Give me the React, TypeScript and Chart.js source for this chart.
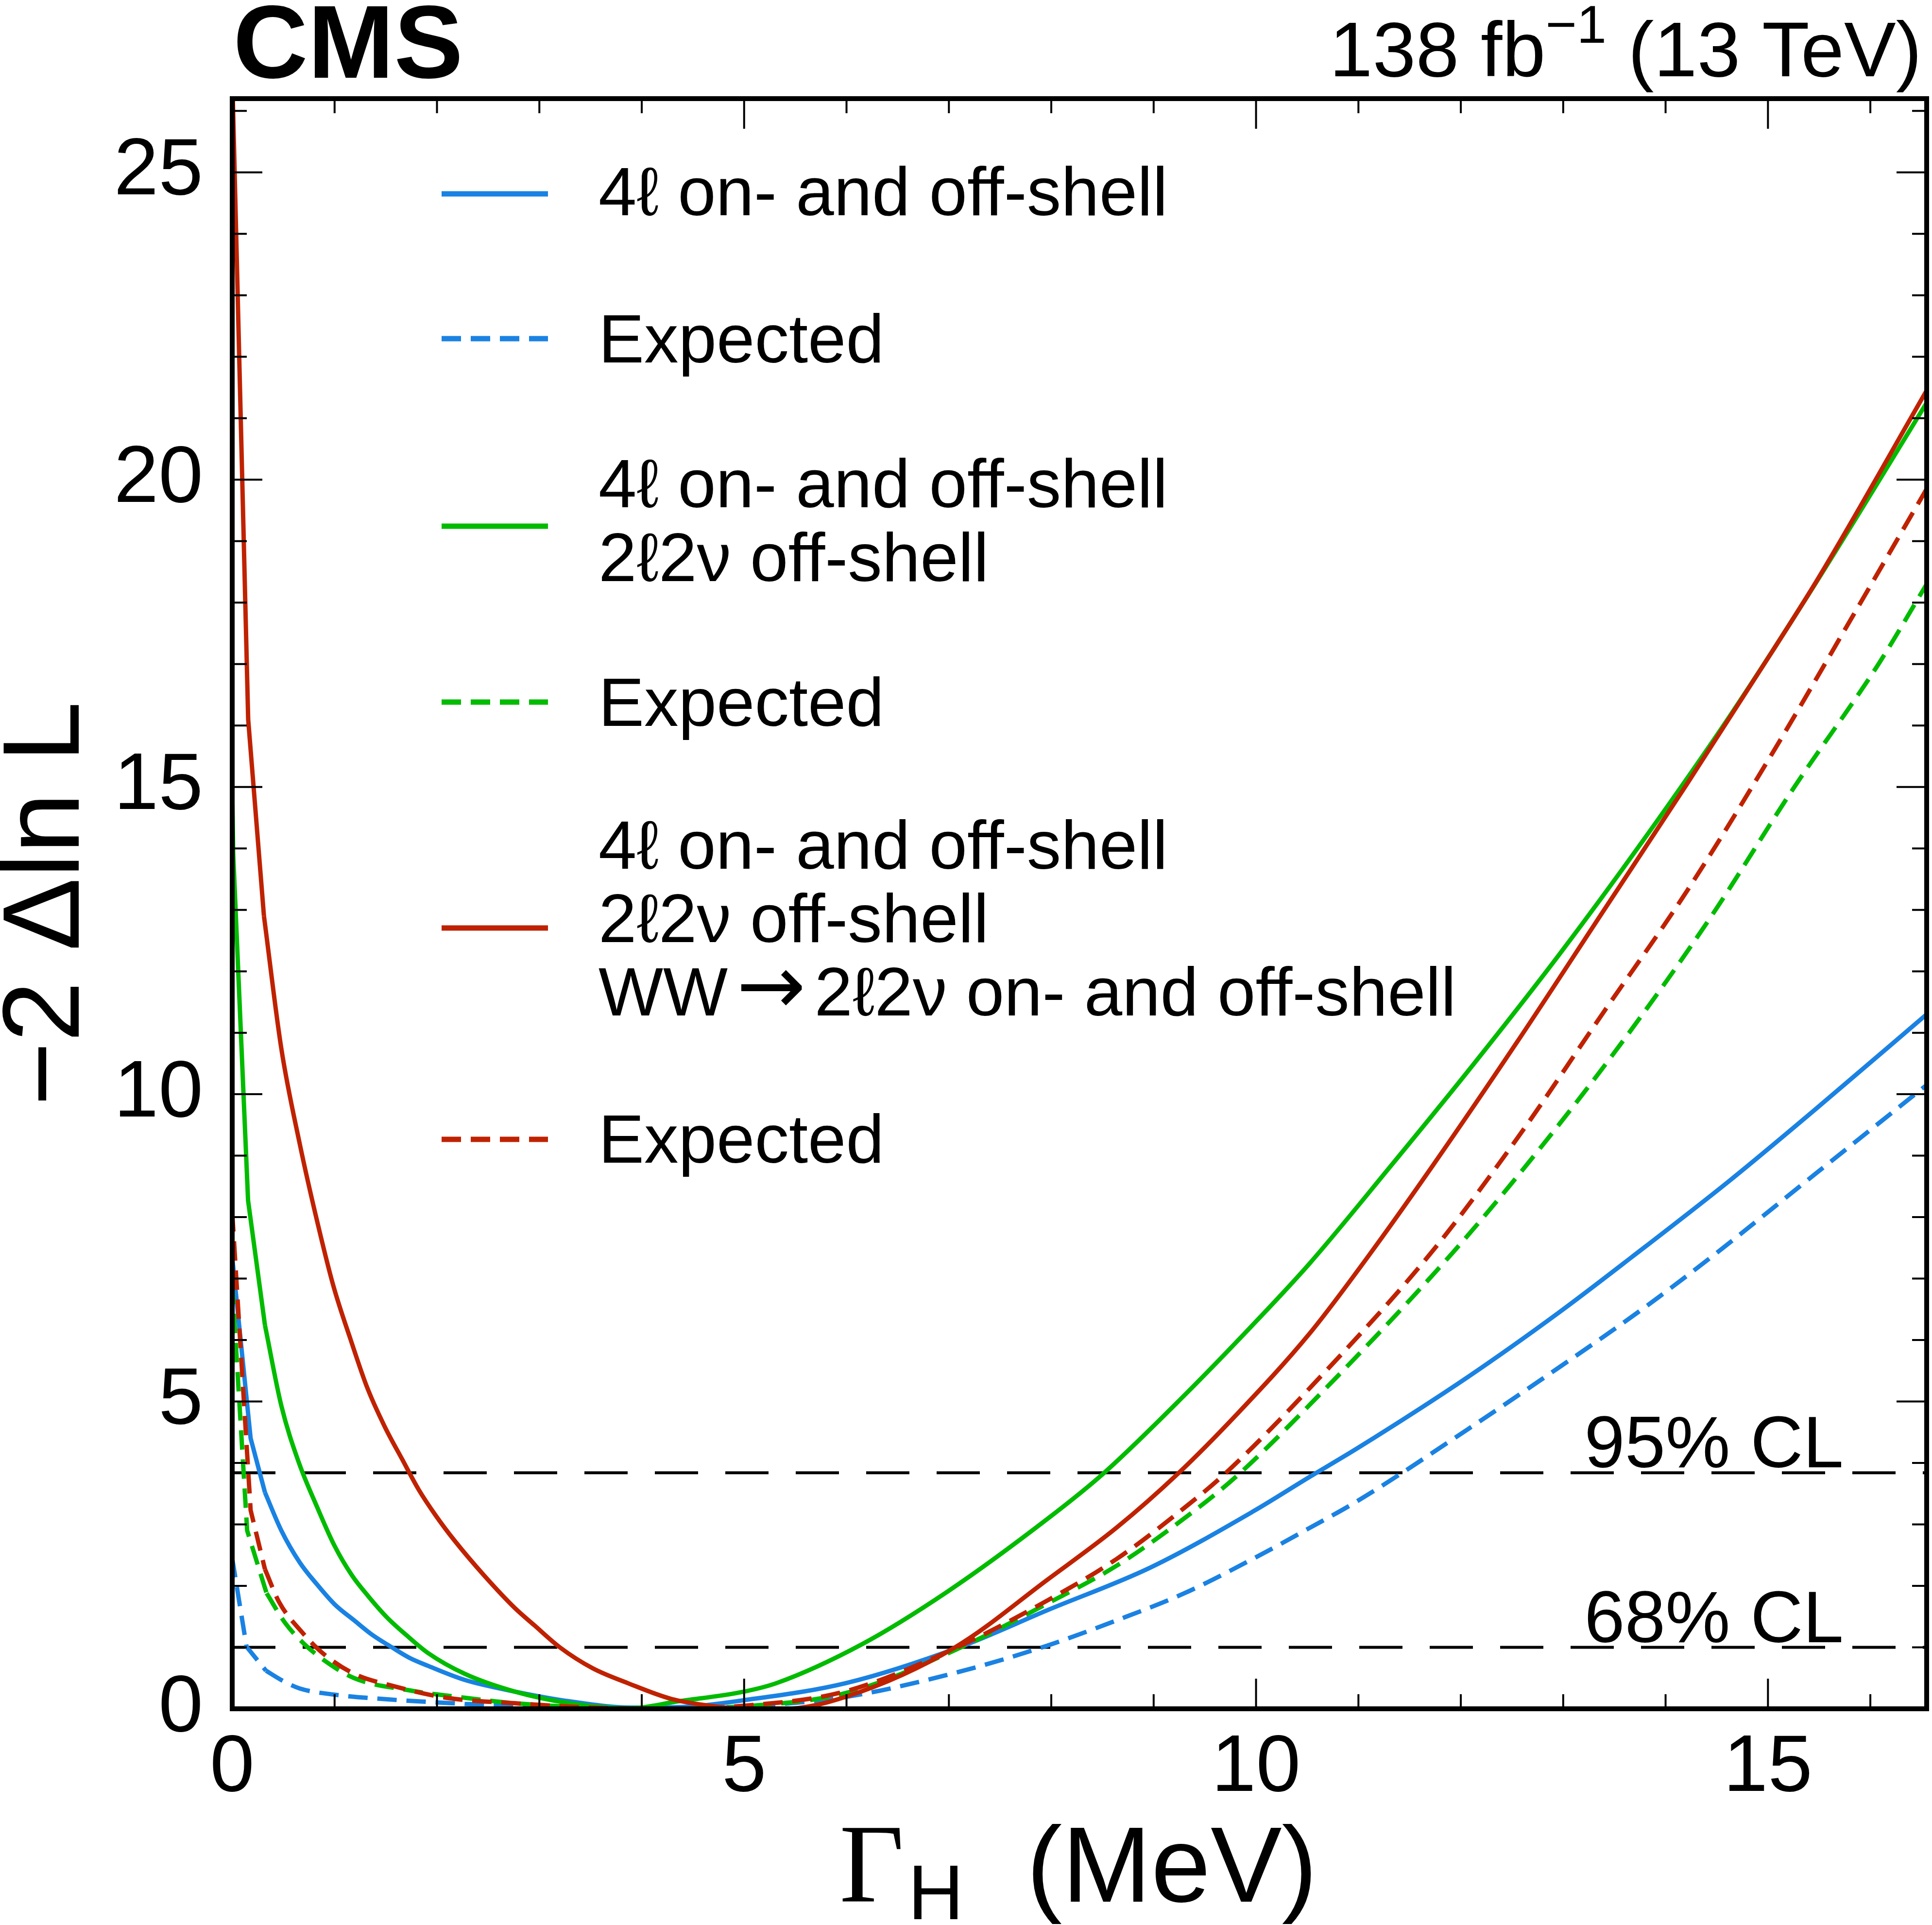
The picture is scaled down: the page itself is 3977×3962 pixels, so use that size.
import React, { useEffect, useRef } from "react"
import { Chart, registerables } from "chart.js"

Chart.register(...registerables)

// canvas / frame geometry (px)
const W = 3977
const H = 3962
const PLOT_LEFT = 478
const PLOT_RIGHT = 3966
const PLOT_TOP = 203
const PLOT_BOTTOM = 3517

const X_MAX = 16.55
const Y_MAX = 26.2

// axis ticks
const xMajorTicks = [0, 5, 10, 15]
const yMajorTicks = [0, 5, 10, 15, 20, 25]
const MINOR_STEP = 1

// confidence levels
const clLevels = [3.84, 1.0]
const clLabels = ["95% CL", "68% CL"]

// 4l on- and off-shell, observed
const obs4lX = [0, 0.18, 0.32, 0.48, 0.66, 0.83, 1.0, 1.19, 1.37, 1.55, 1.73, 1.91, 2.27, 2.76, 3.3, 3.9, 4.4, 5.0, 6.0, 7.1, 7.97, 8.97, 9.97, 10.52, 11.0, 12.07, 12.96, 13.67, 14.63, 15.46, 16.55]
const obs4lY = [7.35, 4.4, 3.52, 2.9, 2.38, 2.02, 1.7, 1.44, 1.2, 1.01, 0.83, 0.7, 0.47, 0.28, 0.12, 0.02, 0.03, 0.14, 0.42, 1.0, 1.61, 2.3, 3.21, 3.77, 4.25, 5.4, 6.45, 7.35, 8.6, 9.75, 11.3]

// 4l on- and off-shell, expected
const exp4lX = [0, 0.14, 0.33, 0.5, 0.66, 1.0, 1.55, 2.27, 2.76, 3.5, 4.1, 5.0, 5.98, 6.98, 7.91, 8.64, 9.3, 9.97, 10.52, 11.0, 12.07, 12.78, 13.77, 14.5, 15.46, 16.55]
const exp4lY = [2.45, 1.01, 0.62, 0.45, 0.33, 0.23, 0.15, 0.08, 0.04, 0.01, 0.0, 0.04, 0.19, 0.55, 1.0, 1.44, 1.88, 2.44, 2.94, 3.39, 4.55, 5.35, 6.5, 7.42, 8.7, 10.15]

// 4l + 2l2nu, observed
const obsZZX = [0, 0.01, 0.155, 0.32, 0.48, 0.65, 0.83, 1.0, 1.17, 1.33, 1.51, 1.7, 1.91, 2.27, 2.76, 3.3, 3.9, 4.35, 5.0, 5.32, 6.15, 6.98, 7.97, 8.51, 9.3, 9.97, 10.52, 11.3, 12.13, 12.96, 13.79, 14.63, 15.46, 16.55]
const obsZZY = [15.0, 13.9, 8.27, 6.24, 4.93, 4.01, 3.28, 2.65, 2.17, 1.83, 1.49, 1.2, 0.91, 0.57, 0.28, 0.09, 0.01, 0.12, 0.28, 0.42, 1.05, 1.9, 3.1, 3.83, 5.1, 6.25, 7.24, 8.8, 10.5, 12.27, 14.15, 16.16, 18.3, 21.25]

// 4l + 2l2nu, expected
const expZZX = [0, 0.146, 0.336, 0.52, 0.7, 0.88, 1.19, 1.73, 2.27, 2.76, 3.5, 4.2, 5.0, 6.0, 7.04, 7.97, 8.64, 9.3, 9.8, 10.52, 11.92, 12.75, 13.59, 14.42, 15.25, 16.08, 16.55]
const expZZY = [6.9, 2.9, 1.88, 1.39, 1.06, 0.81, 0.5, 0.3, 0.18, 0.09, 0.02, 0.0, 0.04, 0.26, 0.94, 1.72, 2.33, 3.1, 3.77, 4.94, 7.42, 9.07, 10.88, 12.83, 14.98, 17.0, 18.3]

// 4l + 2l2nu + WW, observed
const obsAllX = [0, 0.156, 0.31, 0.48, 0.66, 0.83, 0.99, 1.16, 1.32, 1.49, 1.66, 1.82, 1.99, 2.17, 2.46, 2.76, 2.95, 3.2, 3.52, 3.86, 4.29, 4.71, 5.0, 5.4, 6.0, 7.06, 7.97, 8.64, 9.24, 9.8, 10.52, 11.09, 11.71, 12.55, 13.38, 14.21, 15.04, 15.5, 16.55]
const obsAllY = [26.6, 16.1, 12.9, 10.74, 9.19, 7.93, 6.87, 5.99, 5.22, 4.59, 4.06, 3.57, 3.14, 2.74, 2.17, 1.64, 1.36, 1.0, 0.66, 0.42, 0.16, 0.04, 0.0, 0.0, 0.2, 1.0, 2.11, 2.95, 3.83, 4.77, 6.1, 7.35, 8.8, 10.85, 12.95, 15.05, 17.2, 18.42, 21.45]

// 4l + 2l2nu + WW, expected
const expAllX = [0, 0.18, 0.32, 0.46, 0.68, 0.88, 1.19, 1.55, 2.09, 2.76, 3.5, 4.2, 5.0, 5.98, 7.04, 7.97, 8.64, 9.3, 9.7, 10.52, 11.71, 12.55, 13.38, 14.21, 15.04, 15.87, 16.55]
const expAllY = [8.08, 3.23, 2.27, 1.73, 1.25, 0.91, 0.57, 0.38, 0.18, 0.09, 0.02, 0.0, 0.05, 0.28, 0.97, 1.77, 2.44, 3.27, 3.83, 5.21, 7.42, 9.28, 11.3, 13.31, 15.54, 17.9, 19.85]

const BLUE = "#1a82e2"
const GREEN = "#00bb00"
const RED = "#bf2200"
const SANS = "'Liberation Sans', Arial, Helvetica, sans-serif"
const SERIF = "'Liberation Serif', 'Times New Roman', serif"
const ARROW_FONT = "'DejaVu Sans', sans-serif"

const CURVE_WIDTH = 9
const CURVE_DASH = [40, 20]
// below this Γ the scan points are joined by straight segments (visible kinks)
const STRAIGHT_UNTIL = 0.35

const series = [
    { label: "4ℓ on- and off-shell", xs: obs4lX, ys: obs4lY, color: BLUE, dashed: false },
    { label: "Expected", xs: exp4lX, ys: exp4lY, color: BLUE, dashed: true },
    { label: "4ℓ on- and off-shell\n2ℓ2ν off-shell", xs: obsZZX, ys: obsZZY, color: GREEN, dashed: false },
    { label: "Expected", xs: expZZX, ys: expZZY, color: GREEN, dashed: true },
    { label: "4ℓ on- and off-shell\n2ℓ2ν off-shell\nWW→2ℓ2ν on- and off-shell", xs: obsAllX, ys: obsAllY, color: RED, dashed: false },
    { label: "Expected", xs: expAllX, ys: expAllY, color: RED, dashed: true },
]

// legend placement (px), one row per series
const LEG_SAMPLE_X0 = 909
const LEG_SAMPLE_X1 = 1128
const LEG_TEXT_X = 1232
const LEG_FONT = `141px ${SANS}`
const legendRows = [
    { sampleY: 399, baselines: [443] },
    { sampleY: 697, baselines: [746] },
    { sampleY: 1083, baselines: [1044, 1196] },
    { sampleY: 1445, baselines: [1494] },
    { sampleY: 1910, baselines: [1788, 1939, 2090] },
    { sampleY: 2345, baselines: [2393] },
]

function intRange(max: number) {
    const out: number[] = []
    for (let v = 0; v <= max + 1e-9; v += MINOR_STEP) out.push(v)
    return out
}

// legend line; the arrow is drawn a bit larger, as in TLatex
function drawLegendLine(ctx: CanvasRenderingContext2D, line: string, x: number, y: number) {
    const parts = line.split("→")
    if (parts.length === 1) {
        ctx.font = LEG_FONT
        ctx.fillText(line, x, y)
        return
    }
    let cx = x
    parts.forEach((p, i) => {
        if (i > 0) {
            ctx.font = `170px ${ARROW_FONT}`
            cx += 18
            ctx.fillText("→", cx, y - 4)
            cx += ctx.measureText("→").width + 18
        }
        ctx.font = LEG_FONT
        ctx.fillText(p, cx, y)
        cx += ctx.measureText(p).width
    })
}

const cmsDecor = {
    id: "cmsDecor",
    afterDatasetsDraw(chart: any) {
        const { ctx, chartArea: a, scales } = chart
        const xs = scales.x
        const ys = scales.y

        ctx.save()
        ctx.strokeStyle = "#000"
        ctx.lineWidth = 4
        ctx.beginPath()
        intRange(X_MAX).forEach((v) => {
            const px = xs.getPixelForValue(v)
            const len = xMajorTicks.includes(v) ? 62 : 30
            ctx.moveTo(px, a.bottom)
            ctx.lineTo(px, a.bottom - len)
            ctx.moveTo(px, a.top)
            ctx.lineTo(px, a.top + len)
        })
        intRange(Y_MAX).forEach((v) => {
            const py = ys.getPixelForValue(v)
            const len = yMajorTicks.includes(v) ? 62 : 30
            ctx.moveTo(a.left, py)
            ctx.lineTo(a.left + len, py)
            ctx.moveTo(a.right, py)
            ctx.lineTo(a.right - len, py)
        })
        ctx.stroke()

        ctx.lineWidth = 10
        ctx.strokeRect(a.left, a.top, a.right - a.left, a.bottom - a.top)
        ctx.restore()
    },
    afterDraw(chart: any) {
        const { ctx, chartArea: a, scales } = chart
        const ys = scales.y
        ctx.save()
        ctx.fillStyle = "#000"
        ctx.textBaseline = "alphabetic"

        // CMS label
        ctx.textAlign = "left"
        ctx.font = `bold 213px ${SANS}`
        ctx.fillText("CMS", a.left + 2, 160)

        // luminosity label, right aligned
        const lumiMain = `160px ${SANS}`
        const lumiSup = `110px ${SANS}`
        ctx.font = lumiMain
        const w1 = ctx.measureText("138 fb").width
        const w3 = ctx.measureText(" (13 TeV)").width
        ctx.font = lumiSup
        const w2 = ctx.measureText("−1").width
        let lx = a.right - 10 - (w1 + w2 + w3)
        ctx.font = lumiMain
        ctx.fillText("138 fb", lx, 157)
        lx += w1
        ctx.font = lumiSup
        ctx.fillText("−1", lx, 88)
        lx += w2
        ctx.font = lumiMain
        ctx.fillText(" (13 TeV)", lx, 157)

        // CL labels
        ctx.textAlign = "right"
        ctx.font = `150px ${SANS}`
        clLevels.forEach((lvl, i) => {
            ctx.fillText(clLabels[i], a.right - 171, ys.getPixelForValue(lvl) - 11)
        })

        // x title
        const cx = (a.left + a.right) / 2
        ctx.textAlign = "left"
        ctx.font = `230px ${SERIF}`
        ctx.fillText("Γ", cx - 494, 3914)
        ctx.font = `159px ${SANS}`
        ctx.fillText("H", cx - 353, 3950)
        ctx.font = `220px ${SANS}`
        ctx.fillText("(MeV)", cx - 109, 3914)

        // y title
        ctx.save()
        ctx.translate(162, (a.top + a.bottom) / 2)
        ctx.rotate(-Math.PI / 2)
        ctx.textAlign = "center"
        ctx.font = `225px ${SANS}`
        ctx.fillText("−2 Δln L", 0, 0)
        ctx.restore()

        // legend
        ctx.textAlign = "left"
        series.forEach((s, i) => {
            const row = legendRows[i]
            ctx.save()
            ctx.strokeStyle = s.color
            ctx.lineWidth = 11
            ctx.setLineDash(s.dashed ? CURVE_DASH : [])
            ctx.beginPath()
            ctx.moveTo(LEG_SAMPLE_X0, row.sampleY)
            ctx.lineTo(LEG_SAMPLE_X1, row.sampleY)
            ctx.stroke()
            ctx.restore()
            s.label.split("\n").forEach((line, j) => {
                drawLegendLine(ctx, line, LEG_TEXT_X, row.baselines[j])
            })
        })
        ctx.restore()
    },
}

function buildConfig(): any {
    const curveSets: any[] = []
    series.forEach((s, i) => {
        const pts = s.xs.map((x, k) => ({ x, y: s.ys[k] }))
        let cut = pts.findIndex((p) => p.x > STRAIGHT_UNTIL) - 1
        if (cut < 1) cut = 1
        const common = {
            label: s.label,
            borderColor: s.color,
            borderWidth: CURVE_WIDTH,
            borderDash: s.dashed ? CURVE_DASH : [],
            borderCapStyle: "butt",
            borderJoinStyle: "round",
            pointRadius: 0,
            fill: false,
            clip: 0,
            order: 10 - i,
        }
        // steep start: straight segments
        curveSets.push({ ...common, data: pts.slice(0, cut + 1), tension: 0 })
        // rest of the scan: smooth
        curveSets.push({ ...common, data: pts.slice(cut), cubicInterpolationMode: "monotone" })
    })
    const clSets = clLevels.map((lvl) => ({
        label: "CL",
        data: [{ x: 0, y: lvl }, { x: X_MAX, y: lvl }],
        borderColor: "#000",
        borderWidth: 6,
        borderDash: [89, 56],
        pointRadius: 0,
        fill: false,
        clip: 0,
        order: 100,
    }))

    const tickFont = { family: SANS, size: 165 }

    return {
        type: "line",
        data: { datasets: [...curveSets, ...clSets] },
        options: {
            animation: false,
            responsive: false,
            maintainAspectRatio: false,
            devicePixelRatio: 1,
            events: [],
            layout: {
                padding: { top: PLOT_TOP, right: W - PLOT_RIGHT, left: 0, bottom: 0 },
            },
            plugins: {
                legend: { display: false },
                tooltip: { enabled: false },
                title: { display: false },
            },
            scales: {
                x: {
                    type: "linear",
                    min: 0,
                    max: X_MAX,
                    grid: { display: false, drawTicks: false },
                    border: { display: false },
                    afterBuildTicks: (scale: any) => {
                        scale.ticks = xMajorTicks.map((v) => ({ value: v }))
                    },
                    afterFit: (scale: any) => {
                        scale.height = H - PLOT_BOTTOM
                    },
                    ticks: {
                        font: tickFont,
                        color: "#000",
                        padding: 24,
                        maxRotation: 0,
                        autoSkip: false,
                        callback: (v: number) => String(v),
                    },
                },
                y: {
                    type: "linear",
                    min: 0,
                    max: Y_MAX,
                    grid: { display: false, drawTicks: false },
                    border: { display: false },
                    afterBuildTicks: (scale: any) => {
                        scale.ticks = yMajorTicks.map((v) => ({ value: v }))
                    },
                    afterFit: (scale: any) => {
                        scale.width = PLOT_LEFT
                    },
                    ticks: {
                        font: tickFont,
                        color: "#000",
                        padding: 60,
                        autoSkip: false,
                        callback: (v: number) => String(v),
                    },
                },
            },
        },
        plugins: [cmsDecor],
    }
}

export default function App() {
    const canvasRef = useRef<HTMLCanvasElement>(null)

    useEffect(() => {
        document.body.style.margin = "0"
        document.body.style.background = "#fff"
        const chart = new Chart(canvasRef.current as HTMLCanvasElement, buildConfig())
        return () => {
            chart.destroy()
        }
    }, [])

    return (
        <canvas
            ref={canvasRef}
            width={W}
            height={H}
            style={{ display: "block", width: W, height: H, background: "#fff" }}
        />
    )
}
